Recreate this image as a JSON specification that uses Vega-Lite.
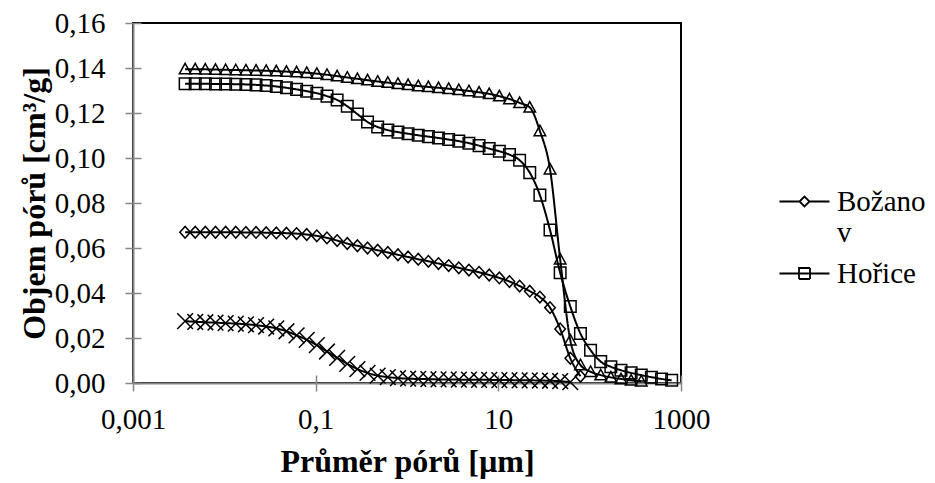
{
"$schema": "https://vega.github.io/schema/vega-lite/v6.json",
"width": 548, "height": 360,
"autosize": {"type": "none"},
"padding": {"left": 133, "top": 23, "right": 254, "bottom": 100},
"background": "white",
"config": {
  "font": "Liberation Serif",
  "view": {"stroke": "black", "strokeWidth": 2},
  "axis": {"grid": false, "domainColor": "#878787", "domainWidth": 2, "tickColor": "#878787", "tickWidth": 1.5, "labelFont": "Liberation Serif", "labelFontSize": 29, "labelColor": "black", "titleFont": "Liberation Serif", "titleFontSize": 32, "titleFontWeight": "bold", "titleColor": "black"},
  "legend": {"orient": "none", "padding": 0, "title": null, "labelFont": "Liberation Serif", "labelFontSize": 29, "labelColor": "black", "labelOffset": 18, "symbolSize": 100, "labelLimit": 400, "symbolStrokeWidth": 1.8, "symbolStrokeColor": "black", "symbolFillColor": "transparent"}
},
"data": {"values": [
{"s":"Božanov","d":0.00372,"v":0.067},{"s":"Božanov","d":0.0048,"v":0.067},{"s":"Božanov","d":0.00619,"v":0.067},{"s":"Božanov","d":0.008,"v":0.067},{"s":"Božanov","d":0.01033,"v":0.067},{"s":"Božanov","d":0.01334,"v":0.067},{"s":"Božanov","d":0.01722,"v":0.0669},{"s":"Božanov","d":0.02223,"v":0.0669},{"s":"Božanov","d":0.02871,"v":0.0668},{"s":"Božanov","d":0.03707,"v":0.0667},{"s":"Božanov","d":0.04786,"v":0.0666},{"s":"Božanov","d":0.0618,"v":0.0664},{"s":"Božanov","d":0.0798,"v":0.066},{"s":"Božanov","d":0.103,"v":0.0654},{"s":"Božanov","d":0.133,"v":0.0645},{"s":"Božanov","d":0.1718,"v":0.0633},{"s":"Božanov","d":0.2218,"v":0.062},{"s":"Božanov","d":0.2864,"v":0.061},{"s":"Božanov","d":0.3698,"v":0.06},{"s":"Božanov","d":0.4775,"v":0.059},{"s":"Božanov","d":0.6166,"v":0.058},{"s":"Božanov","d":0.7962,"v":0.057},{"s":"Božanov","d":1.028,"v":0.056},{"s":"Božanov","d":1.327,"v":0.055},{"s":"Božanov","d":1.714,"v":0.0541},{"s":"Božanov","d":2.213,"v":0.0531},{"s":"Božanov","d":2.858,"v":0.0522},{"s":"Božanov","d":3.69,"v":0.0512},{"s":"Božanov","d":4.764,"v":0.0502},{"s":"Božanov","d":6.152,"v":0.0492},{"s":"Božanov","d":7.943,"v":0.048},{"s":"Božanov","d":10.26,"v":0.0467},{"s":"Božanov","d":13.24,"v":0.0451},{"s":"Božanov","d":17.1,"v":0.0431},{"s":"Božanov","d":22.08,"v":0.0408},{"s":"Božanov","d":28.51,"v":0.0382},{"s":"Božanov","d":36.81,"v":0.0335},{"s":"Božanov","d":47.53,"v":0.024},{"s":"Božanov","d":61.38,"v":0.011},{"s":"Božanov","d":79.25,"v":0.003},
{"s":"Hořice","d":0.00372,"v":0.133},{"s":"Hořice","d":0.0048,"v":0.133},{"s":"Hořice","d":0.00619,"v":0.133},{"s":"Hořice","d":0.008,"v":0.1329},{"s":"Hořice","d":0.01033,"v":0.1329},{"s":"Hořice","d":0.01334,"v":0.1328},{"s":"Hořice","d":0.01722,"v":0.1327},{"s":"Hořice","d":0.02223,"v":0.1325},{"s":"Hořice","d":0.02871,"v":0.1322},{"s":"Hořice","d":0.03707,"v":0.1318},{"s":"Hořice","d":0.04786,"v":0.1312},{"s":"Hořice","d":0.0618,"v":0.1305},{"s":"Hořice","d":0.0798,"v":0.1297},{"s":"Hořice","d":0.103,"v":0.1288},{"s":"Hořice","d":0.133,"v":0.1275},{"s":"Hořice","d":0.1718,"v":0.1258},{"s":"Hořice","d":0.2218,"v":0.123},{"s":"Hořice","d":0.2864,"v":0.1195},{"s":"Hořice","d":0.3698,"v":0.116},{"s":"Hořice","d":0.4775,"v":0.1138},{"s":"Hořice","d":0.6166,"v":0.1124},{"s":"Hořice","d":0.7962,"v":0.1115},{"s":"Hořice","d":1.028,"v":0.1108},{"s":"Hořice","d":1.327,"v":0.1101},{"s":"Hořice","d":1.714,"v":0.1095},{"s":"Hořice","d":2.213,"v":0.1089},{"s":"Hořice","d":2.858,"v":0.1082},{"s":"Hořice","d":3.69,"v":0.1075},{"s":"Hořice","d":4.764,"v":0.1066},{"s":"Hořice","d":6.152,"v":0.1055},{"s":"Hořice","d":7.943,"v":0.1042},{"s":"Hořice","d":10.26,"v":0.103},{"s":"Hořice","d":13.24,"v":0.1015},{"s":"Hořice","d":17.1,"v":0.099},{"s":"Hořice","d":22.08,"v":0.0935},{"s":"Hořice","d":28.51,"v":0.0835},{"s":"Hořice","d":36.81,"v":0.068},{"s":"Hořice","d":47.53,"v":0.049},{"s":"Hořice","d":61.38,"v":0.034},{"s":"Hořice","d":79.25,"v":0.022},{"s":"Hořice","d":102.3,"v":0.0146},{"s":"Hořice","d":132.1,"v":0.0095},{"s":"Hořice","d":170.6,"v":0.0072},{"s":"Hořice","d":220.3,"v":0.0057},{"s":"Hořice","d":284.4,"v":0.0045},{"s":"Hořice","d":367.3,"v":0.0035},{"s":"Hořice","d":474.2,"v":0.0026},{"s":"Hořice","d":612.4,"v":0.0018},{"s":"Hořice","d":790.7,"v":0.0012},
{"s":"Série 3","d":0.00372,"v":0.1395},{"s":"Série 3","d":0.0048,"v":0.1395},{"s":"Série 3","d":0.00619,"v":0.1394},{"s":"Série 3","d":0.008,"v":0.1393},{"s":"Série 3","d":0.01033,"v":0.1392},{"s":"Série 3","d":0.01334,"v":0.1391},{"s":"Série 3","d":0.01722,"v":0.139},{"s":"Série 3","d":0.02223,"v":0.1389},{"s":"Série 3","d":0.02871,"v":0.1388},{"s":"Série 3","d":0.03707,"v":0.1386},{"s":"Série 3","d":0.04786,"v":0.1384},{"s":"Série 3","d":0.0618,"v":0.1382},{"s":"Série 3","d":0.0798,"v":0.1379},{"s":"Série 3","d":0.103,"v":0.1375},{"s":"Série 3","d":0.133,"v":0.137},{"s":"Série 3","d":0.1718,"v":0.1364},{"s":"Série 3","d":0.2218,"v":0.1358},{"s":"Série 3","d":0.2864,"v":0.1352},{"s":"Série 3","d":0.3698,"v":0.1346},{"s":"Série 3","d":0.4775,"v":0.134},{"s":"Série 3","d":0.6166,"v":0.1335},{"s":"Série 3","d":0.7962,"v":0.133},{"s":"Série 3","d":1.028,"v":0.1325},{"s":"Série 3","d":1.327,"v":0.132},{"s":"Série 3","d":1.714,"v":0.1316},{"s":"Série 3","d":2.213,"v":0.1312},{"s":"Série 3","d":2.858,"v":0.1308},{"s":"Série 3","d":3.69,"v":0.1303},{"s":"Série 3","d":4.764,"v":0.1298},{"s":"Série 3","d":6.152,"v":0.1292},{"s":"Série 3","d":7.943,"v":0.1285},{"s":"Série 3","d":10.26,"v":0.1275},{"s":"Série 3","d":13.24,"v":0.1262},{"s":"Série 3","d":17.1,"v":0.1245},{"s":"Série 3","d":22.08,"v":0.1225},{"s":"Série 3","d":28.51,"v":0.112},{"s":"Série 3","d":36.81,"v":0.095},{"s":"Série 3","d":47.53,"v":0.055},{"s":"Série 3","d":61.38,"v":0.019},{"s":"Série 3","d":79.25,"v":0.008},{"s":"Série 3","d":102.3,"v":0.005},{"s":"Série 3","d":132.1,"v":0.0035},{"s":"Série 3","d":170.6,"v":0.0025},{"s":"Série 3","d":220.3,"v":0.0018},{"s":"Série 3","d":284.4,"v":0.0012},{"s":"Série 3","d":367.3,"v":0.0008},
{"s":"Série 4","d":0.00372,"v":0.0275},{"s":"Série 4","d":0.0048,"v":0.0272},{"s":"Série 4","d":0.00619,"v":0.027},{"s":"Série 4","d":0.008,"v":0.0268},{"s":"Série 4","d":0.01033,"v":0.0266},{"s":"Série 4","d":0.01334,"v":0.0264},{"s":"Série 4","d":0.01722,"v":0.0261},{"s":"Série 4","d":0.02223,"v":0.0257},{"s":"Série 4","d":0.02871,"v":0.0251},{"s":"Série 4","d":0.03707,"v":0.0243},{"s":"Série 4","d":0.04786,"v":0.023},{"s":"Série 4","d":0.0618,"v":0.0212},{"s":"Série 4","d":0.0798,"v":0.0192},{"s":"Série 4","d":0.103,"v":0.0168},{"s":"Série 4","d":0.133,"v":0.014},{"s":"Série 4","d":0.1718,"v":0.0112},{"s":"Série 4","d":0.2218,"v":0.0085},{"s":"Série 4","d":0.2864,"v":0.0062},{"s":"Série 4","d":0.3698,"v":0.0045},{"s":"Série 4","d":0.4775,"v":0.0033},{"s":"Série 4","d":0.6166,"v":0.0026},{"s":"Série 4","d":0.7962,"v":0.0022},{"s":"Série 4","d":1.028,"v":0.0019},{"s":"Série 4","d":1.327,"v":0.0018},{"s":"Série 4","d":1.714,"v":0.0017},{"s":"Série 4","d":2.213,"v":0.0016},{"s":"Série 4","d":2.858,"v":0.0016},{"s":"Série 4","d":3.69,"v":0.0015},{"s":"Série 4","d":4.764,"v":0.0015},{"s":"Série 4","d":6.152,"v":0.0014},{"s":"Série 4","d":7.943,"v":0.0014},{"s":"Série 4","d":10.26,"v":0.0013},{"s":"Série 4","d":13.24,"v":0.0013},{"s":"Série 4","d":17.1,"v":0.0012},{"s":"Série 4","d":22.08,"v":0.0012},{"s":"Série 4","d":28.51,"v":0.0011},{"s":"Série 4","d":36.81,"v":0.001},{"s":"Série 4","d":47.53,"v":0.0008},{"s":"Série 4","d":61.38,"v":0.0004}
]},
"layer": [
  {"mark": {"type": "line", "interpolate": "monotone", "stroke": "black", "strokeWidth": 2},
   "encoding": {
     "x": {"field": "d", "type": "quantitative", "scale": {"type": "log", "domain": [0.001, 1000], "nice": false},
           "axis": {"values": [0.001, 0.1, 10, 1000], "labelExpr": "replace(format(datum.value, '~g'), '.', ',')", "tickSize": 8, "labelPadding": 14, "labelFlush": false, "title": "Průměr pórů [µm]", "titlePadding": 12}},
     "y": {"field": "v", "type": "quantitative", "scale": {"domain": [0, 0.16], "nice": false, "zero": false},
           "axis": {"values": [0, 0.02, 0.04, 0.06, 0.08, 0.1, 0.12, 0.14, 0.16], "labelExpr": "replace(format(datum.value, '.2f'), '.', ',')", "tickSize": 8, "labelPadding": 20, "title": "Objem pórů [cm³/g]", "titlePadding": 3}},
     "detail": {"field": "s", "type": "nominal"},
     "strokeDash": {"field": "s", "type": "nominal",
                    "scale": {"domain": ["Hořice", "Božanov", "Série 3", "Série 4"], "range": [[1, 0], [1, 0], [1, 0], [1, 0]]},
                    "legend": {"values": ["Hořice"], "legendX": 657, "legendY": 236, "symbolType": "M-5,0L5,0M-1.1,-1.1L1.1,-1.1L1.1,1.1L-1.1,1.1Z", "symbolDash": [1, 0]}}
   }},
  {"mark": {"type": "point", "filled": false, "strokeWidth": 1.5, "opacity": 1, "size": 110},
   "encoding": {
     "x": {"field": "d", "type": "quantitative", "axis": {"orient": "bottom", "values": [0.001, 0.1, 10, 1000], "labels": false, "domain": false, "title": null, "tickSize": -8}},
     "y": {"field": "v", "type": "quantitative", "axis": {"orient": "left", "values": [0, 0.02, 0.04, 0.06, 0.08, 0.1, 0.12, 0.14, 0.16], "labels": false, "domain": false, "title": null, "tickSize": -8}},
     "shape": {"field": "s", "type": "nominal", "legend": null,
               "scale": {"domain": ["Série 4", "Série 3", "Hořice", "Božanov"], "range": ["M-1.5,-1.5L1.5,1.5M-1.5,1.5L1.5,-1.5", "M0,-1.1L1.1,0.9L-1.1,0.9Z", "M-1.1,-1.1L1.1,-1.1L1.1,1.1L-1.1,1.1Z", "M-1,0L0,-1.1L1,0L0,1.1Z"]}},
     "color": {"field": "s", "type": "nominal",
               "scale": {"domain": ["Božanov", "Hořice", "Série 3", "Série 4"], "range": ["black", "black", "black", "black"]},
               "legend": {"values": ["Božanov"], "legendX": 657, "legendY": 164,
                          "symbolType": "M-5,0L-1,0M1,0L5,0M-1,0L0,-1L1,0L0,1Z",
                          "labelExpr": "datum.label == 'Božanov' ? ['Božano', 'v'] : datum.label"}}
   }}
],
"resolve": {"axis": {"x": "independent", "y": "independent"}}
}
